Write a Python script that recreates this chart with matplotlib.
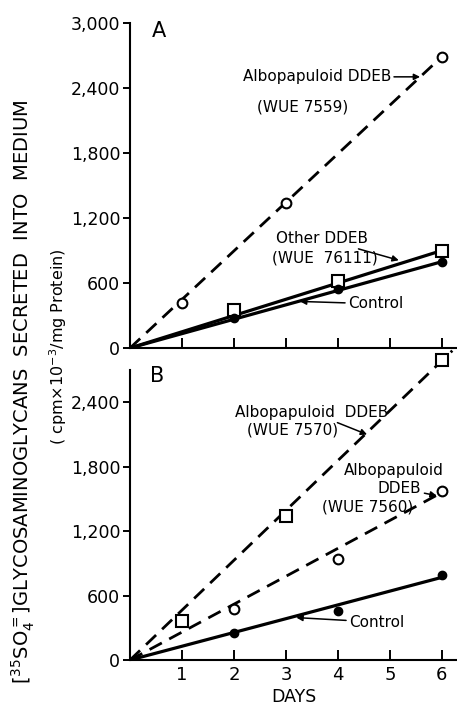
import numpy as np
import matplotlib
matplotlib.use('Agg')
import matplotlib.pyplot as plt

plt.rcParams['font.family'] = ['DejaVu Sans']

# panel A
days_a = [1, 3, 6]
albo7559 = [415, 1335, 2690]
days_a2 = [2, 4, 6]
other76111 = [352, 621, 900]
control_a = [278, 547, 797]
# fitted lines (start, end)
fit_x = [0, 6]
fit_albo7559 = [0, 2690]
fit_other = [0, 900]
fit_control_a = [0, 797]

# panel B
days_b1 = [1, 3, 6]
albo7570 = [363, 1340, 2790]
days_b2 = [2, 4, 6]
albo7560 = [474, 940, 1572]
control_b = [251, 456, 790]
fit_x_7570 = [0, 6.2]
fit_albo7570 = [0, 2880]
fit_albo7560 = [0, 1560]
fit_control_b = [0, 770]

yticks_a = [0, 600, 1200, 1800, 2400, 3000]
yticks_b = [0, 600, 1200, 1800, 2400]
xticks = [1, 2, 3, 4, 5, 6]

def fmt(v):
    return '{:,}'.format(v)

fig = plt.figure(figsize=(4.57, 7.12), dpi=100)
ax1 = fig.add_axes([0.2845, 0.5112, 0.7155, 0.4565])
ax2 = fig.add_axes([0.2845, 0.0730, 0.7155, 0.4073])

dash = (0, (5, 3))
arrow = dict(arrowstyle='-|>', color='k', lw=1.1, mutation_scale=9, shrinkA=0, shrinkB=0)

for ax in (ax1, ax2):
    for s in ['top', 'right']:
        ax.spines[s].set_visible(False)
    ax.spines['left'].set_linewidth(1.5)
    ax.spines['bottom'].set_linewidth(1.5)
    ax.set_xlim(0, 6.29)
    ax.set_xticks(xticks)
    ax.tick_params(axis='x', direction='in', length=7, width=1.4, labelsize=13)
    ax.tick_params(axis='y', direction='out', length=5, width=1.4, labelsize=12.5, pad=2)

# --- panel A ---
ax1.set_ylim(0, 3000)
ax1.set_yticks(yticks_a)
ax1.set_yticklabels([fmt(v) for v in yticks_a])
ax1.set_xticklabels([])
ax1.plot(fit_x, fit_albo7559, color='k', lw=2, linestyle=dash)
ax1.plot(fit_x, fit_other, color='k', lw=2.3)
ax1.plot(fit_x, fit_control_a, color='k', lw=2.3)
ax1.plot(days_a, albo7559, 'o', ms=7, mfc='white', mec='k', mew=1.5)
ax1.plot(days_a2, other76111, 's', ms=8, mfc='white', mec='k', mew=1.5)
ax1.plot(days_a2, control_a, 'o', ms=6, color='k')

ax1.text(0.42, 2930, 'A', fontsize=15, va='center', ha='left')
ax1.annotate('Albopapuloid DDEB', xy=(5.58, 2503), xytext=(2.17, 2503),
             fontsize=11, va='center', ha='left', arrowprops=arrow)
ax1.text(2.44, 2225, '(WUE 7559)', fontsize=11, va='center', ha='left')
ax1.annotate('Other DDEB', xy=(5.17, 810), xytext=(2.81, 1010),
             fontsize=11, va='center', ha='left', arrowprops=arrow)
ax1.text(2.73, 834, '(WUE  76111)', fontsize=11, va='center', ha='left')
ax1.annotate('Control', xy=(3.27, 430), xytext=(4.19, 408),
             fontsize=11, va='center', ha='left', arrowprops=arrow)

# --- panel B ---
ax2.set_ylim(0, 2700)
ax2.set_yticks(yticks_b)
ax2.set_yticklabels([fmt(v) for v in yticks_b])
ax2.set_xticklabels([str(v) for v in xticks])
ax2.tick_params(axis='x', pad=4)
ax2.plot(fit_x_7570, fit_albo7570, color='k', lw=2, linestyle=dash, clip_on=False)
ax2.plot(fit_x, fit_albo7560, color='k', lw=2, linestyle=dash)
ax2.plot(fit_x, fit_control_b, color='k', lw=2.3)
ax2.plot(days_b1, albo7570, 's', ms=8, mfc='white', mec='k', mew=1.5, clip_on=False)
ax2.plot(days_b2, albo7560, 'o', ms=7, mfc='white', mec='k', mew=1.5)
ax2.plot(days_b2, control_b, 'o', ms=6, color='k')

ax2.text(0.38, 2640, 'B', fontsize=15, va='center', ha='left')
ax2.annotate('Albopapuloid  DDEB', xy=(4.56, 2100), xytext=(2.02, 2306),
             fontsize=11, va='center', ha='left', arrowprops=arrow)
ax2.text(2.25, 2139, '(WUE 7570)', fontsize=11, va='center', ha='left')
ax2.text(4.12, 1767, 'Albopapuloid', fontsize=11, va='center', ha='left')
ax2.annotate('DDEB', xy=(5.9, 1530), xytext=(4.77, 1600),
             fontsize=11, va='center', ha='left', arrowprops=arrow)
ax2.text(3.69, 1423, '(WUE 7560)', fontsize=11, va='center', ha='left')
ax2.annotate('Control', xy=(3.2, 395), xytext=(4.21, 353),
             fontsize=11, va='center', ha='left', arrowprops=arrow)
ax2.set_xlabel('DAYS', fontsize=12.5, labelpad=3)

# shared y label
fig.text(0.05, 1 - 392 / 712, r'[$^{35}$SO$_4^{=}$]GLYCOSAMINOGLYCANS  SECRETED  INTO  MEDIUM',
         rotation=90, fontsize=14, ha='center', va='center')
fig.text(0.127, 1 - 347 / 712, r'( cpm$\times$10$^{-3}$/mg Protein)',
         rotation=90, fontsize=11.5, ha='center', va='center')

fig.savefig('out.png', dpi=100)
